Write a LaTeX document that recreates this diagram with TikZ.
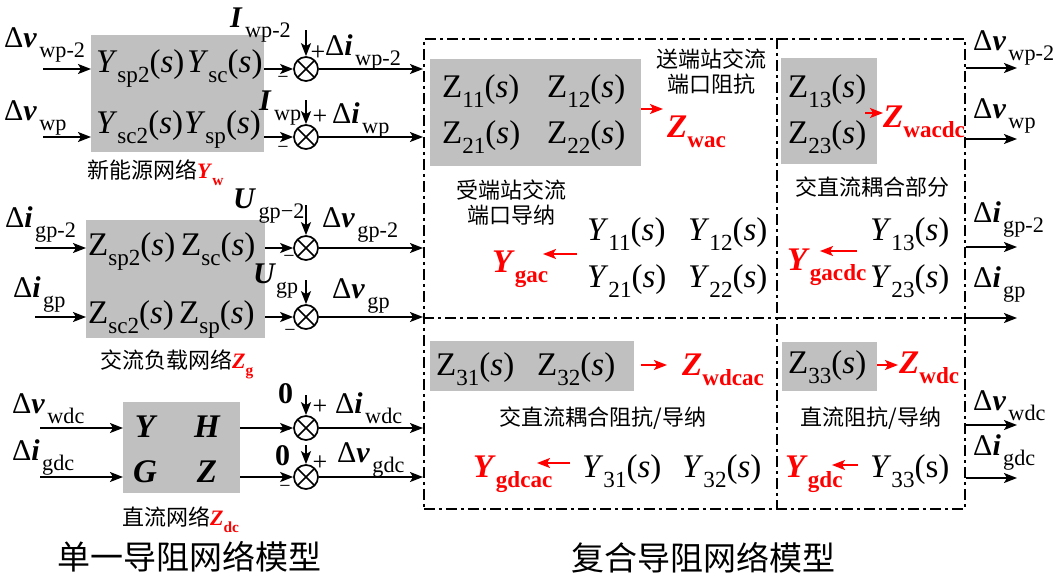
\documentclass[tikz,border=0pt]{standalone}
\usepackage{fontspec}
\setmainfont{Liberation Serif}
\newfontfamily\cjk{Noto Sans CJK SC}
\usetikzlibrary{arrows.meta}
\definecolor{boxgray}{RGB}{192,192,192}
\newcommand\sbs[1]{\raisebox{-0.33em}{\fontsize{0.7em}{0.7em}\selectfont\upshape #1}}
\newcommand\lsb[1]{\kern0.08em\raisebox{-0.35em}{\fontsize{0.74em}{0.74em}\selectfont\upshape #1}}
\newcommand\dl[2]{Δ\textbf{\textit{#1}}\lsb{#2}}
\newcommand\ps{(\textit{s})}
\newcommand\rsym[2]{\textbf{\textit{#1}}\sbs{\bfseries #2}}
\begin{document}
\begin{tikzpicture}[x=1pt,y=-1pt,
  lbl/.style={inner sep=0pt,anchor=base west,font=\fontsize{30}{30}\selectfont},
  mx/.style={inner sep=0pt,anchor=base west,font=\fontsize{33}{33}\selectfont},
  rl/.style={inner sep=0pt,anchor=base west,text=red,font=\fontsize{33}{33}\selectfont},
  cn/.style={inner sep=0pt,font=\cjk\fontsize{22}{25}\selectfont,align=center},
  ttl/.style={inner sep=0pt,font=\cjk\fontsize{33}{33}\selectfont},
  gbox/.style={fill=boxgray,draw=none,inner sep=0pt,anchor=north west},
  arr/.style={line width=1.7pt,-{Stealth[length=13pt,width=10pt,inset=3pt]}},
  rarr/.style={line width=1.7pt,red,-{Stealth[length=13pt,width=10pt,inset=3pt]}},
  sumj/.style={circle,draw,line width=1.7pt,minimum size=24pt,inner sep=0pt,
    path picture={\draw[line width=1.7pt] (path picture bounding box.south west) -- (path picture bounding box.north east)
      (path picture bounding box.north west) -- (path picture bounding box.south east);}},
  dd/.style={line width=1.7pt,dash pattern=on 11pt off 4pt on 3pt off 4pt},
  plus/.style={inner sep=0pt,font=\fontsize{26}{26}\selectfont},
  minus/.style={inner sep=0pt,font=\fontsize{20}{20}\selectfont}
]
\useasboundingbox (0,0) rectangle (1063,574);

% ================= LEFT: new energy network =================
\node[gbox,minimum width=173pt,minimum height=117pt] (W) at (91,35) {};
\node[mx] (w11) at (96,72) {\textit{Y}\sbs{sp2}\ps};
\node[mx] (w12) at (187,72) {\textit{Y}\sbs{sc}\ps};
\node[mx] (w21) at (96,133) {\textit{Y}\sbs{sc2}\ps};
\node[mx] (w22) at (184,133) {\textit{Y}\sbs{sp}\ps};
\node[cn,anchor=base west] (wcap) at (87,178) {新能源网络\textcolor{red}{\rmfamily\rsym{Y}{w}}};

\node[sumj] (S1) at (306,69) {};
\node[sumj] (S2) at (306,137) {};
\coordinate (a1) at (43,69);
\coordinate (a2) at (43,137);
\draw[arr] (a1) -- (a1 -| W.west);
\draw[arr] (a2) -- (a2 -| W.west);
\draw[arr] (S1 -| W.east) -- (S1);
\draw[arr] (S2 -| W.east) -- (S2);
\node[lbl] (ldv1) at (4,47) {\dl{v}{wp-2}};
\node[lbl] (ldv2) at (4,120) {\dl{v}{wp}};
\node[lbl] (lI1) at (230,27) {\textbf{\textit{I}}\lsb{wp-2}};
\node[lbl] (lI2) at (259,110) {\textbf{\textit{I}}\lsb{wp}};
\coordinate (t1) at (306,30);
\coordinate (t2) at (306,100);
\draw[arr] (t1) -- (S1);
\draw[arr] (t2) -- (S2);
\node[plus] (p1) at (318,53) {+};
\node[minus] (m1) at (283,80) {−};
\node[plus] (p2) at (320,117) {+};
\node[minus] (m2) at (283,150) {−};
\node[lbl] (ldi1) at (325,55) {\dl{i}{wp-2}};
\node[lbl] (ldi2) at (332,123) {\dl{i}{wp}};

% ================= LEFT: AC load network =================
\node[gbox,minimum width=179pt,minimum height=118pt] (G) at (86,220) {};
\node[mx] (g11) at (88,255) {Z\sbs{sp2}\ps};
\node[mx] (g12) at (181,255) {Z\sbs{sc}\ps};
\node[mx] (g21) at (88,323) {Z\sbs{sc2}\ps};
\node[mx] (g22) at (179,323) {Z\sbs{sp}\ps};
\node[cn,anchor=base west] (gcap) at (100,368) {交流负载网络\textcolor{red}{\rmfamily\rsym{Z}{g}}};

\node[sumj] (S3) at (306,248) {};
\node[sumj] (S4) at (306,317) {};
\coordinate (a3) at (35,248);
\coordinate (a4) at (35,317);
\draw[arr] (a3) -- (a3 -| G.west);
\draw[arr] (a4) -- (a4 -| G.west);
\draw[arr] (S3 -| G.east) -- (S3);
\draw[arr] (S4 -| G.east) -- (S4);
\node[lbl] (ldi3) at (5,227) {\dl{i}{gp-2}};
\node[lbl] (ldi4) at (13,297) {\dl{i}{gp}};
\node[lbl] (lU1) at (233,208) {\textbf{\textit{U}}\lsb{gp−2}};
\node[lbl] (lU2a) at (253,283) {\textbf{\textit{U}}};
\node[lbl,font=\fontsize{22}{22}\selectfont] (lU2b) at (276,293) {gp};
\coordinate (t3) at (306,205);
\coordinate (t4) at (306,280);
\draw[arr] (t3) -- (S3);
\draw[arr] (t4) -- (S4);
\node[minus] (m3) at (289,259) {−};
\node[minus] (m4) at (290,333) {−};
\node[lbl] (ldv3) at (322,227) {\dl{v}{gp-2}};
\node[lbl] (ldv4) at (332,298) {\dl{v}{gp}};

% ================= LEFT: DC network =================
\node[gbox,minimum width=117pt,minimum height=91pt] (D) at (123,402) {};
\node[mx,anchor=center,font=\fontsize{33}{33}\selectfont\bfseries\itshape] (dY) at (145,427) {Y};
\node[mx,anchor=center,font=\fontsize{33}{33}\selectfont\bfseries\itshape] (dH) at (207,427) {H};
\node[mx,anchor=center,font=\fontsize{33}{33}\selectfont\bfseries\itshape] (dG) at (145,472) {G};
\node[mx,anchor=center,font=\fontsize{33}{33}\selectfont\bfseries\itshape] (dZ) at (207,472) {Z};
\node[cn,anchor=base west] (dcap) at (122,525) {直流网络\textcolor{red}{\rmfamily\rsym{Z}{dc}}};

\node[sumj] (S5) at (306,428) {};
\node[sumj] (S6) at (306,477) {};
\coordinate (a5) at (40,428);
\coordinate (a6) at (40,477);
\draw[arr] (a5) -- (a5 -| D.west);
\draw[arr] (a6) -- (a6 -| D.west);
\draw[arr] (S5 -| D.east) -- (S5);
\draw[arr] (S6 -| D.east) -- (S6);
\node[lbl] (ldv5) at (12,413) {\dl{v}{wdc}};
\node[lbl] (ldi6) at (12,460) {\dl{i}{gdc}};
\node[lbl,font=\fontsize{30}{30}\selectfont\bfseries] (z1) at (278,403) {0};
\node[lbl,font=\fontsize{30}{30}\selectfont\bfseries] (z2) at (275,465) {0};
\coordinate (t5) at (306,395);
\coordinate (t6) at (306,445);
\draw[arr] (t5) -- (S5);
\draw[arr] (t6) -- (S6);
\node[plus] (p5) at (320,407) {+};
\node[minus] (m5) at (285,433) {−};
\node[plus] (p6) at (320,463) {+};
\node[minus] (m6) at (285,489) {−};
\node[lbl] (ldi5) at (335,413) {\dl{i}{wdc}};
\node[lbl] (ldv6) at (337,462) {\dl{v}{gdc}};

\node[ttl] (ttlL) at (189,557) {单一导阻网络模型};

% ================= RIGHT: composite network =================
\node[draw,dd,inner sep=0pt,anchor=north west,minimum width=541pt,minimum height=470pt] (R) at (423,38) {};
\coordinate (v1) at (777,38);
\coordinate (v2) at (777,508);
\coordinate (h1) at (423,318);
\coordinate (h2) at (964,318);
\draw[dd] (v1) -- (v2);
\draw[dd] (h1) -- (h2);

% outputs of left part into R
\draw[arr] (S1) -- (S1 -| R.west);
\draw[arr] (S2) -- (S2 -| R.west);
\draw[arr] (S3) -- (S3 -| R.west);
\draw[arr] (S4) -- (S4 -| R.west);
\draw[arr] (S5) -- (S5 -| R.west);
\draw[arr] (S6) -- (S6 -| R.west);

% top-left quadrant
\node[gbox,minimum width=211pt,minimum height=107pt] (Zac) at (430,59) {};
\node[mx] (z11) at (442,97) {Z\sbs{11}\ps};
\node[mx] (z12) at (547,97) {Z\sbs{12}\ps};
\node[mx] (z21) at (442,143) {Z\sbs{21}\ps};
\node[mx] (z22) at (547,143) {Z\sbs{22}\ps};
\node[rl] (Zwac) at (667,137) {\rsym{Z}{wac}};
\coordinate (ra1) at (663,109);
\draw[rarr] (ra1 -| Zac.east) -- (ra1);
\node[cn] (c1) at (711,72) {送端站交流\\端口阻抗};
\node[cn] (c2) at (511,203) {受端站交流\\端口导纳};
\node[mx] (y11) at (587,240) {\textit{Y}\sbs{11}\ps};
\node[mx] (y12) at (688,240) {\textit{Y}\sbs{12}\ps};
\node[mx] (y21) at (587,287) {\textit{Y}\sbs{21}\ps};
\node[mx] (y22) at (688,287) {\textit{Y}\sbs{22}\ps};
\node[rl] (Ygac) at (492,272) {\rsym{Y}{gac}};
\coordinate (ra2a) at (577,254);
\coordinate (ra2b) at (543,254);
\draw[rarr] (ra2a) -- (ra2b);

% top-right quadrant
\node[gbox,minimum width=96pt,minimum height=106pt] (Zcp) at (781,58) {};
\node[mx] (z13) at (788,97) {Z\sbs{13}\ps};
\node[mx] (z23) at (788,143) {Z\sbs{23}\ps};
\node[rl] (Zwacdc) at (883,127) {\rsym{Z}{wacdc}};
\coordinate (ra3a) at (865,113);
\coordinate (ra3b) at (883,113);
\draw[rarr] (ra3a) -- (ra3b);
\node[cn] (c3) at (872,187) {交直流耦合部分};
\node[mx] (y13) at (870,240) {\textit{Y}\sbs{13}\ps};
\node[mx] (y23) at (870,287) {\textit{Y}\sbs{23}\ps};
\node[rl] (Ygacdc) at (787,270) {\rsym{Y}{gacdc}};
\coordinate (ra4a) at (857,251);
\coordinate (ra4b) at (820,251);
\draw[rarr] (ra4a) -- (ra4b);

% bottom-left quadrant
\node[gbox,minimum width=204pt,minimum height=50pt] (Zdcac) at (430,341) {};
\node[mx] (z31) at (436,375) {Z\sbs{31}\ps};
\node[mx] (z32) at (537,375) {Z\sbs{32}\ps};
\node[rl] (Zwdcac) at (682,375) {\rsym{Z}{wdcac}};
\coordinate (ra5a) at (641,365);
\coordinate (ra5b) at (667,365);
\draw[rarr] (ra5a) -- (ra5b);
\node[cn] (c4) at (603,418) {交直流耦合阻抗/导纳};
\node[rl] (Ygdcac) at (473,477) {\rsym{Y}{gdcac}};
\coordinate (ra6a) at (570,463);
\coordinate (ra6b) at (537,463);
\draw[rarr] (ra6a) -- (ra6b);
\node[mx] (y31) at (582,477) {\textit{Y}\sbs{31}\ps};
\node[mx] (y32) at (682,477) {\textit{Y}\sbs{32}\ps};

% bottom-right quadrant
\node[gbox,minimum width=95pt,minimum height=49pt] (Zdc) at (782,342) {};
\node[mx] (z33) at (788,373) {Z\sbs{33}\ps};
\node[rl] (Zwdc) at (899,373) {\rsym{Z}{wdc}};
\coordinate (ra7) at (898,365);
\draw[rarr] (ra7 -| Zdc.east) -- (ra7);
\node[cn] (c5) at (871,418) {直流阻抗/导纳};
\node[rl] (Ygdc) at (785,477) {\rsym{Y}{gdc}};
\coordinate (ra8a) at (858,465);
\coordinate (ra8b) at (832,465);
\draw[rarr] (ra8a) -- (ra8b);
\node[mx] (y33) at (870,477) {\textit{Y}\sbs{33}(s)};

% right outputs
\coordinate (o1) at (1017,68);
\coordinate (o2) at (1017,139);
\coordinate (o3) at (1017,247);
\coordinate (o4) at (1017,318);
\coordinate (o5) at (1017,425);
\coordinate (o6) at (1017,478);
\draw[arr] (o1 -| R.east) -- (o1);
\draw[arr] (o2 -| R.east) -- (o2);
\draw[arr] (o3 -| R.east) -- (o3);
\draw[arr] (h2) -- (o4);
\draw[arr] (o5 -| R.east) -- (o5);
\draw[arr] (o6 -| R.east) -- (o6);
\node[lbl] (r1) at (973,50) {\dl{v}{wp-2}};
\node[lbl] (r2) at (973,118) {\dl{v}{wp}};
\node[lbl] (r3) at (973,222) {\dl{i}{gp-2}};
\node[lbl] (r4) at (973,287) {\dl{i}{gp}};
\node[lbl] (r5) at (973,410) {\dl{v}{wdc}};
\node[lbl] (r6) at (973,455) {\dl{i}{gdc}};

\node[ttl] (ttlR) at (703,558) {复合导阻网络模型};
\end{tikzpicture}
\end{document}
